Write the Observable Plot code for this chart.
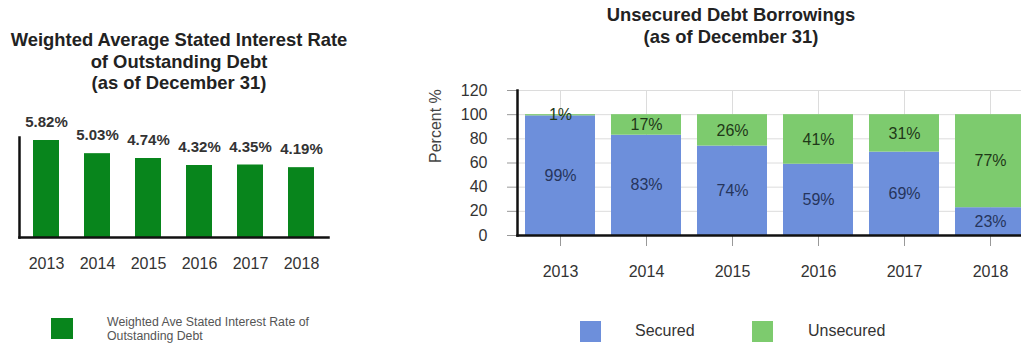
<!DOCTYPE html>
<html><head><meta charset="utf-8">
<script src="https://cdn.jsdelivr.net/npm/d3@7"></script>
<script src="https://cdn.jsdelivr.net/npm/@observablehq/plot@0.6"></script>
<style>
html,body{margin:0;padding:0;width:1021px;height:343px;overflow:hidden;background:#fff;font-family:"Liberation Sans",Arial,sans-serif;}
#root{position:relative;width:1021px;height:343px;overflow:hidden;}
.title{font-weight:bold;font-size:18.4px;color:#222;text-align:center;line-height:21.5px;white-space:nowrap;}
.lg{position:absolute;white-space:nowrap;}
</style></head>
<body><div id="root"></div>
<script>
const years = ["2013","2014","2015","2016","2017","2018"];
const rates = [5.82, 5.03, 4.74, 4.32, 4.35, 4.19];
const secured = [99, 83, 74, 59, 69, 23];
const unsecured = [1, 17, 26, 41, 31, 77];
const percentTicks = [0, 20, 40, 60, 80, 100, 120];
const seriesNames = ["Secured", "Unsecured"];
const seriesColors = ["#6d8fdb", "#7dcb6e"];
const rateColor = "#08851c";
const leftTitle = ["Weighted Average Stated Interest Rate", "of Outstanding Debt", "(as of December 31)"];
const rightTitle = ["Unsecured Debt Borrowings", "(as of December 31)"];
const leftLegend = "Weighted Ave Stated Interest Rate of Outstanding Debt";

const root = document.getElementById("root");
const font = "'Liberation Sans', Arial, sans-serif";

function place(el, left, top) {
  el.style.position = "absolute";
  el.style.left = left + "px";
  el.style.top = top + "px";
  root.appendChild(el);
}

// Left chart
const rateData = years.map((y, i) => ({year: y, rate: rates[i]}));
const left = Plot.plot({
  width: 340, height: 280,
  marginLeft: 19, marginRight: 12, marginTop: 137, marginBottom: 43,
  style: {fontFamily: font, fontSize: "16px", background: "transparent", overflow: "visible"},
  x: {domain: years, paddingInner: 0.495, paddingOuter: 0.25, label: null},
  y: {domain: [0, 6], axis: null},
  marks: [
    Plot.barY(rateData, {x: "year", y: "rate", fill: rateColor}),
    Plot.text(rateData, {x: "year", y: "rate", text: d => d.rate.toFixed(2) + "%", dy: -18, fontWeight: "bold", fontSize: 15, fill: "#333"}),
    Plot.axisX({tickSize: 0, tickPadding: 20, fontSize: 16, fill: "#333", label: null}),
    Plot.frame({anchor: "left", stroke: "#111", strokeWidth: 2.5}),
    Plot.frame({anchor: "bottom", stroke: "#111", strokeWidth: 2.5})
  ]
});
place(left, 0, 0);

// Right chart
const debtData = [];
seriesNames.forEach((s, k) => years.forEach((y, i) => debtData.push({year: y, type: s, value: k === 0 ? secured[i] : unsecured[i]})));
const right = Plot.plot({
  width: 613, height: 290,
  marginLeft: 97, marginRight: 0, marginTop: 90, marginBottom: 55,
  style: {fontFamily: font, fontSize: "16px", background: "transparent", overflow: "visible"},
  x: {domain: years, paddingInner: 0.186, paddingOuter: 0.093, label: null},
  y: {domain: [0, 120], label: null},
  color: {domain: seriesNames, range: seriesColors},
  marks: [
    Plot.gridY(percentTicks, {stroke: "#dcdcdc", strokeOpacity: 1}),
    Plot.gridX({stroke: "#dcdcdc", strokeOpacity: 1}),
    Plot.barY(debtData, {x: "year", y: "value", fill: "type"}),
    Plot.text(debtData, Plot.stackY({x: "year", y: "value", text: d => d.type === "Secured" ? d.value + "%" : "", fill: "#26355c", fontSize: 16})),
    Plot.text(debtData, Plot.stackY({x: "year", y: "value", text: d => d.type === "Unsecured" ? d.value + "%" : "", fill: "#1f3818", fontSize: 16})),
    Plot.axisY(percentTicks, {tickSize: 10, tickPadding: 20, stroke: "#999", fill: "#333", fontSize: 16, label: null}),
    Plot.axisX({tickSize: 11, tickPadding: 19, stroke: "#999", fill: "#333", fontSize: 16, label: null}),
    Plot.text(["Percent %"], {text: d => d, frameAnchor: "left", dx: -82, rotate: -90, fontSize: 16, fill: "#444"}),
    Plot.frame({anchor: "left", stroke: "#111", strokeWidth: 2.5}),
    Plot.frame({anchor: "bottom", stroke: "#111", strokeWidth: 2.5})
  ]
});
place(right, 420, 0);

// Titles
const lt = document.createElement("div");
lt.className = "title";
lt.style.width = "358px";
lt.innerHTML = leftTitle.join("<br>");
place(lt, 0, 29);

const rt = document.createElement("div");
rt.className = "title";
rt.style.width = "400px";
rt.style.lineHeight = "22px";
rt.innerHTML = rightTitle.join("<br>");
place(rt, 531, 4);

// Left legend
const s1 = document.createElement("div");
s1.style.width = "22px"; s1.style.height = "21px"; s1.style.background = rateColor;
place(s1, 51, 318);
const t1 = document.createElement("div");
t1.className = "lg";
t1.style.fontSize = "12.3px"; t1.style.lineHeight = "14px"; t1.style.color = "#555"; t1.style.width = "240px"; t1.style.whiteSpace = "normal";
t1.textContent = leftLegend;
place(t1, 107, 315);

// Right legend
const legendX = [[580, 635], [752, 808]];
seriesNames.forEach((s, k) => {
  const sq = document.createElement("div");
  sq.style.width = "21px"; sq.style.height = "21px"; sq.style.background = seriesColors[k];
  place(sq, legendX[k][0], 321);
  const tx = document.createElement("div");
  tx.className = "lg";
  tx.style.fontSize = "16px"; tx.style.lineHeight = "18px"; tx.style.color = "#333";
  tx.textContent = s;
  place(tx, legendX[k][1], 322);
});
</script>
</body></html>
